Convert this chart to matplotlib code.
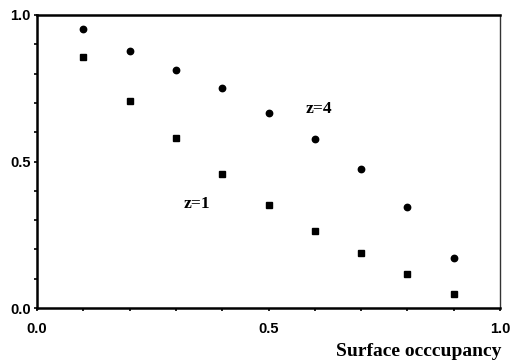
import matplotlib
matplotlib.use("Agg")
import matplotlib.pyplot as plt
from matplotlib.ticker import MultipleLocator, FixedLocator

occupancy = [0.1, 0.2, 0.3, 0.4, 0.5, 0.6, 0.7, 0.8, 0.9]
z4_values = [0.951, 0.877, 0.812, 0.750, 0.667, 0.578, 0.475, 0.344, 0.172]
z1_values = [0.858, 0.708, 0.580, 0.457, 0.352, 0.264, 0.189, 0.115, 0.048]
tick_values = [0.0, 0.5, 1.0]
tick_labels = ["0.0", "0.5", "1.0"]

fig = plt.figure(figsize=(5.13, 3.6), dpi=100)
ax = fig.add_axes([37/513, 1 - 308/360, 463/513, 293/360])

ax.plot(occupancy, z4_values, linestyle="none", marker="o", markersize=4.6,
        color="black", clip_on=False)
ax.plot(occupancy, z1_values, linestyle="none", marker="s", markersize=4.6,
        color="black", clip_on=False)

ax.set_xlim(0, 1)
ax.set_ylim(0, 1)

ax.xaxis.set_major_locator(FixedLocator(tick_values))
ax.yaxis.set_major_locator(FixedLocator(tick_values))
ax.xaxis.set_minor_locator(MultipleLocator(0.1))
ax.yaxis.set_minor_locator(MultipleLocator(0.1))
ax.set_xticklabels(tick_labels, fontfamily="Liberation Sans", fontweight="bold", fontsize=10.5)
ax.set_yticklabels(tick_labels, fontfamily="Liberation Sans", fontweight="bold", fontsize=10.5)
ax.tick_params(axis="both", which="both", direction="out", length=2, width=1.2, color="black")
ax.tick_params(axis="x", which="major", pad=8)
ax.tick_params(axis="y", which="major", pad=2.5)

for side in ["left", "bottom", "top"]:
    ax.spines[side].set_linewidth(1.8)
ax.spines["right"].set_linewidth(1.0)
ax.spines["right"].set_color("#333333")

ax.text(0.61, 0.68, "z=4", fontfamily="Liberation Serif", fontweight="bold",
        fontsize=12.5, ha="center", va="center")
ax.text(0.345, 0.355, "z=1", fontfamily="Liberation Serif", fontweight="bold",
        fontsize=12.5, ha="center", va="center")

fig.text(501/513, 1 - 351/360, "Surface occcupancy", fontfamily="Liberation Serif",
         fontweight="bold", fontsize=14, ha="right", va="center")

fig.savefig("out.png", dpi=100, facecolor="white")
